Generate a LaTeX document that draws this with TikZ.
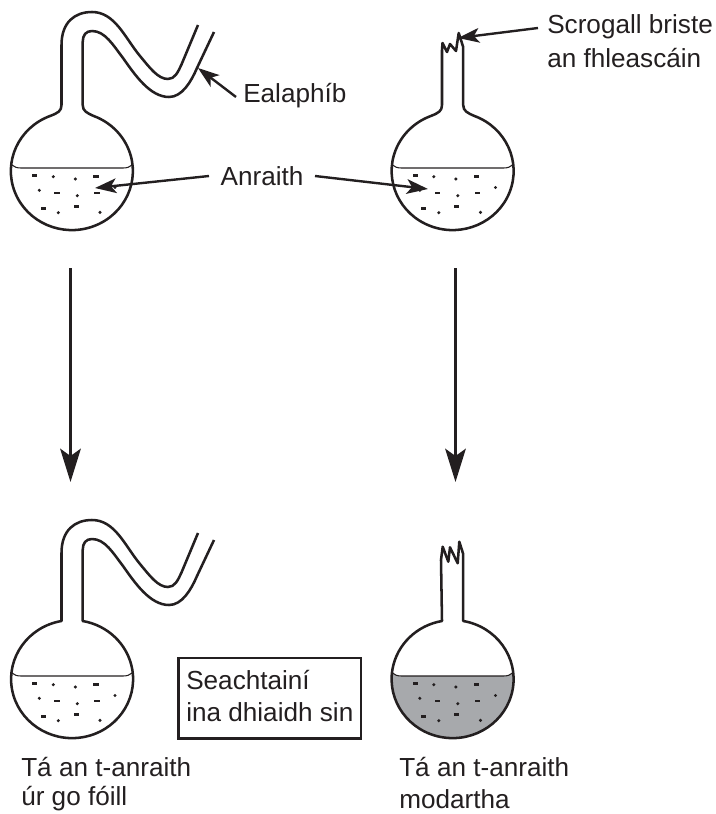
\documentclass[tikz,border=0pt]{standalone}
\usepackage{fontspec}
\setmainfont{Liberation Sans}
\usetikzlibrary{arrows.meta}
\definecolor{ink}{HTML}{231F20}
\definecolor{broth}{HTML}{A7A9AC}
\tikzset{
  glass/.style={draw=ink,line width=1.9pt,line join=round},
  surface/.style={draw=ink,line width=0.8pt},
  speckdash/.style={fill=ink,draw=none,minimum width=4pt,minimum height=2.2pt,inner sep=0pt},
  speckdot/.style={fill=ink,draw=none,circle,minimum size=2.6pt,inner sep=0pt},
  lbl/.style={text=ink,font=\fontsize{19.6pt}{24pt}\selectfont,inner sep=0pt,anchor=west},
  bigarrow/.style={draw=ink,line width=1.8pt,-{Stealth[length=25pt,width=15.5pt,inset=5.5pt,color=ink]}},
  smallarrow/.style={draw=ink,line width=1.8pt,-{Stealth[length=16pt,width=11pt,inset=4pt,color=ink]}},
}
\newcommand{\specks}{%
  \foreach \px/\py in {34.7/175.7,96/176.3,57/193,97/193,43.3/208.3,76.3/206.3}
    \node[speckdash] at (\px,\py) {};
  \foreach \px/\py in {53.3/176.7,75.3/179,39.3/190.3,77.3/195.7,115/187.5,58.3/212.7,100/212.3}
    \node[speckdot] at (\px,\py) {};
}
\newcommand{\surfaceline}{\draw[surface] (12,165) .. controls (14,167) and (17,168) .. (21,168) -- (123,168) .. controls (127,168) and (130,167) .. (132,165);}
\begin{document}
\begin{tikzpicture}[x=0.75pt,y=-0.75pt]
\useasboundingbox (0,0) rectangle (715,814);

% top left flask
\begin{scope}
  \draw[glass] (198,25) -- (181.7,64) .. controls (178,72) and (175,79) .. (168,79)
    .. controls (158,79) and (150,68) .. (140,56)
    .. controls (125,38) and (115,12) .. (92,12)
    .. controls (75,12) and (61.5,22) .. (61.5,45) -- (61.5,105)
    .. controls (61.5,111) and (58,113) .. (50,116)
    arc[start angle=249,end angle=-69,x radius=61,y radius=59]
    .. controls (87,113) and (82.7,111) .. (82.7,105) -- (82.7,42)
    .. controls (82.7,35) and (86,31) .. (92,31)
    .. controls (105,31) and (113,45) .. (123,58)
    .. controls (135,75) and (150,97) .. (169,97)
    .. controls (182,97) and (191,82) .. (197,68) -- (214,32);
  \surfaceline
  \specks
\end{scope}

% top right flask
\begin{scope}[shift={(380.5,0)}]
  \draw[glass] (61.5,50) -- (62,43) -- (66.5,52) -- (69.5,44) -- (75.5,51) -- (78.2,33) -- (82.7,47) -- (82.7,105)
    .. controls (82.7,111) and (87,113) .. (94,116)
    arc[start angle=-69,delta angle=318,x radius=61,y radius=59]
    .. controls (58,113) and (61.5,111) .. (61.5,105) -- cycle;
  \surfaceline
  \specks
\end{scope}

% bottom left flask
\begin{scope}[shift={(0,508)}]
  \draw[glass] (198,25) -- (181.7,64) .. controls (178,72) and (175,79) .. (168,79)
    .. controls (158,79) and (150,68) .. (140,56)
    .. controls (125,38) and (115,12) .. (92,12)
    .. controls (75,12) and (61.5,22) .. (61.5,45) -- (61.5,113)
    arc[start angle=260,end angle=-80,x radius=61,y radius=59]
    -- (82.7,42)
    .. controls (82.7,35) and (86,31) .. (92,31)
    .. controls (105,31) and (113,45) .. (123,58)
    .. controls (135,75) and (150,97) .. (169,97)
    .. controls (182,97) and (191,82) .. (197,68) -- (214,32);
  \surfaceline
  \specks
\end{scope}

% bottom right flask
\begin{scope}[shift={(380.5,508)}]
  \fill[broth] (11.4,165) .. controls (14,167) and (17,168) .. (21,168) -- (123,168) .. controls (127,168) and (130,167) .. (132.8,165)
    arc[start angle=-5.8,end angle=185.8,x radius=61,y radius=59] -- cycle;
  \draw[glass] (60.5,52) -- (62.2,38.7) -- (67.8,53.7) -- (69.5,39.3) -- (77.2,55.3) -- (78.8,33.7) -- (82.7,46) -- (82.7,113)
    arc[start angle=-80,delta angle=340,x radius=61,y radius=59] -- (61.5,113) -- cycle;
  \surfaceline
  \specks
\end{scope}

% labels
\node[lbl,inner sep=0pt] (ealaphib) at (243,96) {Ealaphíb};
\node[text=ink,font=\fontsize{19.6pt}{24pt}\selectfont,inner xsep=8.5pt,inner ysep=0pt] (anraith) at (262,176) {Anraith};
\node[lbl] (scrogall) at (547,27) {Scrogall briste};
\node[lbl] (fhleascain) at (547,58) {an fhleascáin};
\node[lbl] (fresh1) at (21,767) {Tá an t-anraith};
\node[lbl] (fresh2) at (21,799) {úr go fóill};
\node[lbl] (mould1) at (399,767) {Tá an t-anraith};
\node[lbl] (mould2) at (399,799) {modartha};
\node[draw=ink,line width=1.9pt,anchor=north west,minimum width=137pt,minimum height=60.5pt,inner sep=0pt] (weeks) at (177,656.5) {};
\node[lbl] (weeks1) at (186,680) {Seachtainí};
\node[lbl] (weeks2) at (186,712) {ina dhiaidh sin};

% connector ends
\coordinate (tube) at (198,68);
\coordinate (brothL) at (95,188);
\coordinate (brothR) at (428,189);
\coordinate (crack) at (458,38);
\coordinate (downLa) at (70.5,268);
\coordinate (downLb) at (70.5,482);
\coordinate (downRa) at (455.5,268);
\coordinate (downRb) at (455.5,482);
\coordinate (scrogallEnd) at (538,28);
\coordinate (ealaEnd) at (236,97);

\draw[bigarrow] (downLa) -- (downLb);
\draw[bigarrow] (downRa) -- (downRb);
\draw[smallarrow] (ealaEnd) -- (tube);
\draw[smallarrow] (anraith.west) -- (brothL);
\draw[smallarrow] (anraith.east) -- (brothR);
\draw[smallarrow] (scrogallEnd) -- (crack);
\end{tikzpicture}
\end{document}
